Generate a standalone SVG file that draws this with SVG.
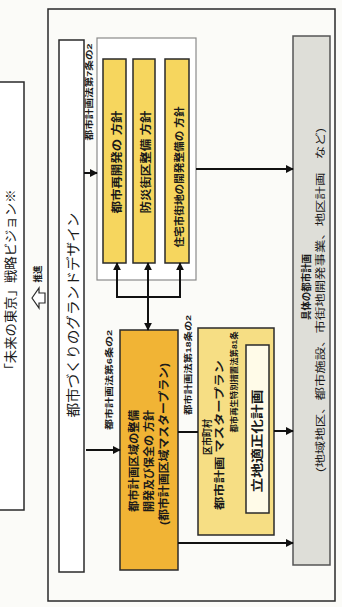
<svg xmlns="http://www.w3.org/2000/svg" width="342" height="607" viewBox="0 0 342 607">
<defs>
<marker id="ah" viewBox="0 0 10 10" refX="9" refY="5" markerWidth="4" markerHeight="4" orient="auto" markerUnits="strokeWidth"><path d="M0,0 L10,5 L0,10 Z" fill="#111"/></marker>
<style>
text{font-family:'Liberation Sans','Noto Sans CJK JP',sans-serif;fill:#1a1a1a;text-anchor:middle;dominant-baseline:central}
.b{font-weight:bold}
.box{stroke:#2a2a2a;stroke-width:1.5}
.conn{stroke:#111;stroke-width:2;fill:none}
.lbl{font-size:8px;font-weight:bold}
</style>
</defs>
<rect width="342" height="607" fill="#fbfbf8"/>
<g id="vision">
<rect x="-2" y="82" width="26" height="428" fill="#fff" class="box"/>
<text transform="translate(10,283) rotate(-90)" font-size="13" textLength="187" lengthAdjust="spacingAndGlyphs">「未来の東京」戦略ビジョン※</text>
</g>
<g id="promote">
<polygon points="32,298 39,288 39,293 45,293 45,303 39,303 39,308" fill="#fff" stroke="#2a2a2a" stroke-width="1.2"/>
<text class="b" transform="translate(38,274) rotate(-90)" font-size="9" textLength="17" lengthAdjust="spacingAndGlyphs">推進</text>
</g>
<g id="outer">
<rect x="48" y="9" width="287" height="592" fill="none" class="box"/>
</g>
<g id="granddesign">
<rect x="59" y="40" width="25" height="532" fill="#fff" class="box"/>
<text transform="translate(73,315) rotate(-90)" font-size="14" textLength="205" lengthAdjust="spacingAndGlyphs">都市づくりのグランドデザイン</text>
</g>
<g id="labels">
<text class="lbl" transform="translate(89,92) rotate(-90)" textLength="97" lengthAdjust="spacingAndGlyphs">都市計画法第7条の2</text>
<text class="lbl" transform="translate(109,380) rotate(-90)" textLength="100" lengthAdjust="spacingAndGlyphs">都市計画法第6条の2</text>
<text class="lbl" transform="translate(188,365) rotate(-90)" textLength="100" lengthAdjust="spacingAndGlyphs">都市計画法第18条の2</text>
</g>
<g id="policies">
<rect x="97" y="38" width="99" height="242" fill="#fff" stroke="#8a8a8a" stroke-width="1.2"/>
<rect x="103" y="59" width="23" height="204" fill="#f6d65e" class="box"/>
<rect x="133" y="59" width="22" height="204" fill="#f6d65e" class="box"/>
<rect x="165" y="59" width="24" height="204" fill="#f6d65e" class="box"/>
<text class="b" transform="translate(117,162) rotate(-90)" font-size="11" textLength="103" lengthAdjust="spacingAndGlyphs">都市再開発の 方針</text>
<text class="b" transform="translate(146,162) rotate(-90)" font-size="11" textLength="103" lengthAdjust="spacingAndGlyphs">防災街区整備 方針</text>
<text class="b" transform="translate(179,177) rotate(-90)" font-size="10.5" textLength="141" lengthAdjust="spacingAndGlyphs">住宅市街地の開発整備の 方針</text>
</g>
<g id="areaplan">
<rect x="120" y="330" width="58" height="240" fill="#f1b435" class="box"/>
<text class="b" transform="translate(134,461) rotate(-90)" font-size="11" textLength="102" lengthAdjust="spacingAndGlyphs">都市計画区域の整備</text>
<text class="b" transform="translate(149,461) rotate(-90)" font-size="11" textLength="102" lengthAdjust="spacingAndGlyphs">開発及び保全の 方針</text>
<text class="b" transform="translate(164,444) rotate(-90)" font-size="11" textLength="162" lengthAdjust="spacingAndGlyphs">(都市計画区域マスタープラン)</text>
</g>
<g id="municipal">
<rect x="198" y="328" width="76" height="207" fill="#f6de84" class="box"/>
<text class="b" transform="translate(207,437) rotate(-90)" font-size="10" textLength="36" lengthAdjust="spacingAndGlyphs">区市町村</text>
<text class="b" transform="translate(219,435) rotate(-90)" font-size="10.5" textLength="150" lengthAdjust="spacingAndGlyphs">都市計画 マスタープラン</text>
<text class="lbl" transform="translate(234,382) rotate(-90)" textLength="101" lengthAdjust="spacingAndGlyphs">都市再生特別措置法第81条</text>
</g>
<g id="location">
<rect x="246" y="345" width="23" height="168" fill="#fffbe8" class="box"/>
<text class="b" transform="translate(258,441) rotate(-90)" font-size="12.5" textLength="103" lengthAdjust="spacingAndGlyphs">立地適正化計画</text>
</g>
<g id="concrete">
<rect x="293" y="36" width="37" height="529" fill="#deded8" stroke="#555" stroke-width="1.5"/>
<text class="b" transform="translate(306,287) rotate(-90)" font-size="10" textLength="66" lengthAdjust="spacingAndGlyphs">具体の都市計画</text>
<text transform="translate(320,300) rotate(-90)" font-size="10" textLength="344" lengthAdjust="spacingAndGlyphs">(地域地区、都市施設、市街地開発事業、地区計画　など)</text>
</g>
<g id="connectors">
<line class="conn" x1="84" y1="173" x2="97" y2="173" marker-end="url(#ah)"/>
<line class="conn" x1="86" y1="450" x2="120" y2="450" marker-end="url(#ah)"/>
<line class="conn" x1="196" y1="169" x2="293" y2="169" marker-end="url(#ah)"/>
<line class="conn" x1="117" y1="297" x2="117" y2="263" marker-end="url(#ah)"/>
<line class="conn" x1="148" y1="297" x2="148" y2="263" marker-end="url(#ah)"/>
<line class="conn" x1="180" y1="297" x2="180" y2="263" marker-end="url(#ah)"/>
<line class="conn" x1="116" y1="297" x2="181" y2="297"/>
<line class="conn" x1="148" y1="297" x2="148" y2="330" marker-end="url(#ah)"/>
<line class="conn" x1="178" y1="432" x2="198" y2="432"/>
<line class="conn" x1="274" y1="431" x2="293" y2="431" marker-end="url(#ah)"/>
<line class="conn" x1="178" y1="543" x2="293" y2="543" marker-end="url(#ah)"/>
</g>
</svg>
